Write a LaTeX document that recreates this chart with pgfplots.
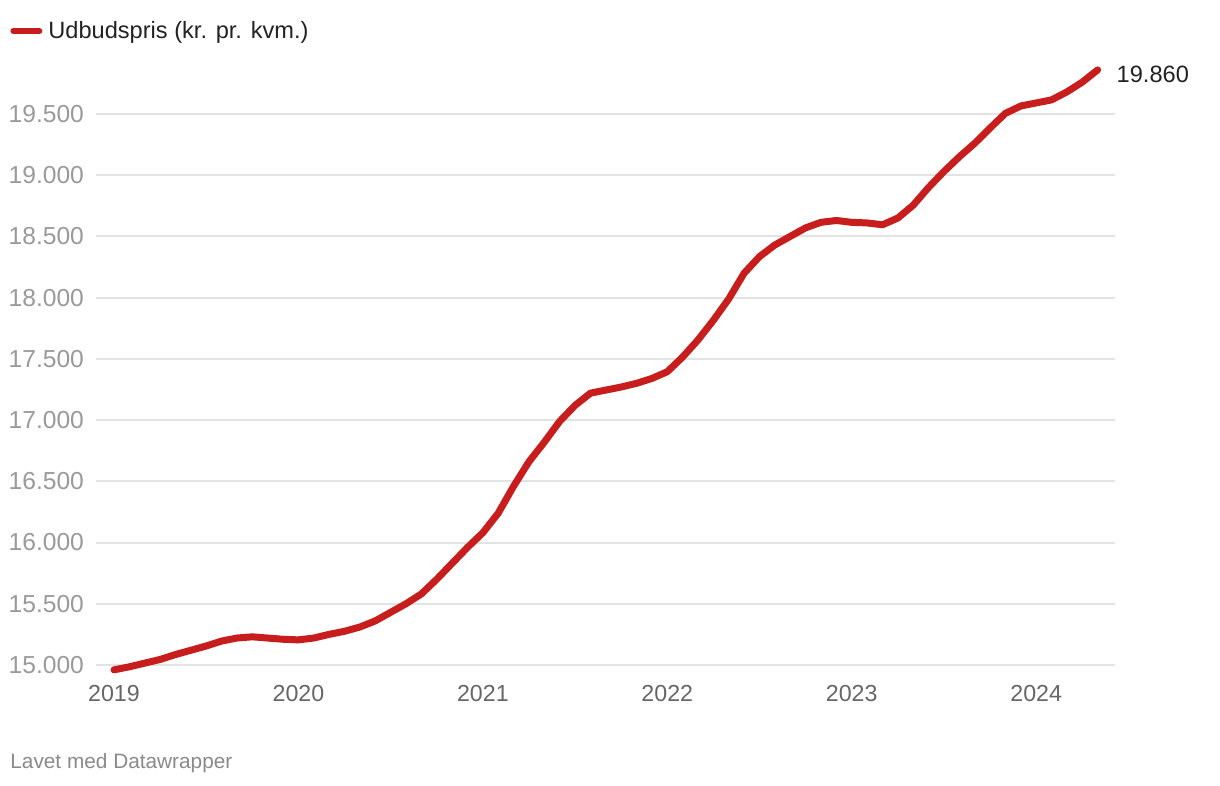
\documentclass[border=0pt]{standalone}
\usepackage{pgfplots}
\pgfplotsset{compat=1.18}
\usepackage{fontspec}
\setmainfont{Liberation Sans}
\definecolor{dwred}{HTML}{C71E1D}
\definecolor{ylab}{HTML}{9A9A9A}
\definecolor{xlab}{HTML}{666666}
\definecolor{gridc}{HTML}{E3E3E3}
\definecolor{foot}{HTML}{8A8A8A}
\definecolor{txt}{HTML}{222222}
\pgfplotstableread{
m v
0 14960
1 14985
2 15015
3 15045
4 15085
5 15120
6 15155
7 15195
8 15220
9 15230
10 15220
11 15210
12 15205
13 15220
14 15250
15 15275
16 15310
17 15360
18 15430
19 15500
20 15580
21 15700
22 15830
23 15960
24 16080
25 16240
26 16460
27 16660
28 16820
29 16990
30 17120
31 17220
32 17245
33 17270
34 17300
35 17340
36 17395
37 17515
38 17655
39 17815
40 17990
41 18200
42 18335
43 18430
44 18500
45 18570
46 18615
47 18630
48 18615
49 18610
50 18595
51 18650
52 18755
53 18900
54 19030
55 19150
56 19260
57 19385
58 19505
59 19565
60 19590
61 19615
62 19680
63 19760
64 19860
}\datatable
\begin{document}
\begin{tikzpicture}
\path[use as bounding box] (0,0) rectangle (610pt,393pt);
\begin{axis}[
  at={(48pt,57.45pt)}, anchor=south west,
  scale only axis, width=509.5pt, height=303.05pt,
  xmin=-1.17, xmax=65.13, ymin=14950, ymax=19900,
  axis line style={draw=none},
  clip=false,
  scaled y ticks=false, scaled x ticks=false,
  ymajorgrids, xmajorgrids=false,
  grid style={gridc, line width=1pt},
  major tick length=0pt,
  ytick={15000,15500,16000,16500,17000,17500,18000,18500,19000,19500},
  yticklabels={15.000,15.500,16.000,16.500,17.000,17.500,18.000,18.500,19.000,19.500},
  xtick={0,12,24,36,48,60},
  xticklabels={2019,2020,2021,2022,2023,2024},
  yticklabel style={font=\fontsize{12.3pt}{14pt}\selectfont, text=ylab, anchor=east, xshift=-2.5pt},
  xticklabel style={font=\fontsize{11.6pt}{14pt}\selectfont, text=xlab, anchor=north, yshift=-3.5pt},
  legend style={at={(rel axis cs:-0.0844,1.056)}, anchor=west, draw=none, fill=none, inner sep=0pt,
    font=\fontsize{11.8pt}{14pt}\selectfont, text=txt},
  legend cell align=left,
  legend image code/.code={\draw[dwred, line width=3pt, line cap=round] (0pt,0pt) -- (13pt,0pt);},
]
\addplot[dwred, line width=3.5pt, line join=round, line cap=round] table[x=m, y=v] {\datatable};
\addlegendentry{\hspace{1pt}Udbudspris (kr. pr. kvm.)}
\node[anchor=west, text=txt, font=\fontsize{11.8pt}{14pt}\selectfont, xshift=6pt, yshift=-2pt] at (axis cs:64,19860) {19.860};
\end{axis}
\node[anchor=west, text=foot, font=\fontsize{10.4pt}{12pt}\selectfont, inner sep=0pt] at (5pt,11.5pt) {Lavet med Datawrapper};
\end{tikzpicture}
\end{document}
